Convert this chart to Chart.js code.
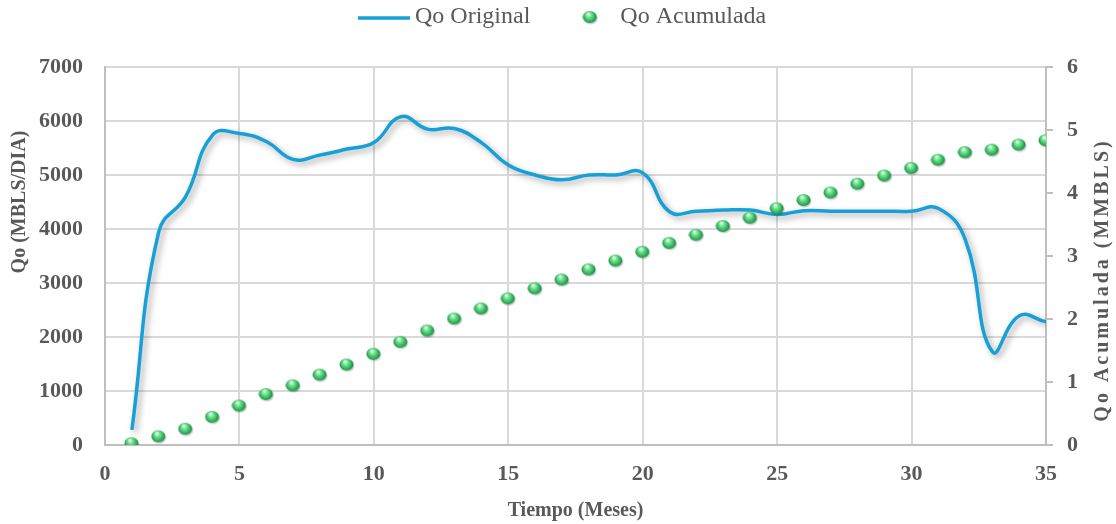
<!DOCTYPE html>
<html>
<head>
<meta charset="utf-8">
<script src="https://cdn.jsdelivr.net/npm/chart.js@4"></script>
<style>
  html, body { margin: 0; padding: 0; background: #fff; }
  #grafico { display: block; }
</style>
</head>
<body>
<canvas id="grafico" width="1116" height="524"></canvas>
<script>
// Datos
const meses = [1, 2, 3, 4, 5, 6, 7, 8, 9, 10, 11, 12, 13, 14, 15, 16, 17, 18,
               19, 20, 21, 22, 23, 24, 25, 26, 27, 28, 29, 30, 31, 32, 33, 34, 35];

const qoOriginal = [280, 3950, 4600, 5740, 5770, 5620, 5290, 5370, 5480, 5600,
                    6080, 5850, 5860, 5600, 5185, 5000, 4910, 5000, 5000, 5040,
                    4320, 4330, 4350, 4350, 4270, 4340, 4330, 4330, 4330, 4330,
                    4380, 3800, 1730, 2390, 2280];

const qoAcumulada = [0.02, 0.13, 0.25, 0.44, 0.62, 0.80, 0.94, 1.11, 1.27, 1.44,
                     1.63, 1.81, 2.00, 2.16, 2.32, 2.48, 2.62, 2.78, 2.92, 3.06,
                     3.20, 3.33, 3.47, 3.60, 3.75, 3.88, 4.00, 4.14, 4.27, 4.39,
                     4.52, 4.64, 4.68, 4.76, 4.83];

const ticksX = [0, 5, 10, 15, 20, 25, 30, 35];

// esfera verde para los puntos
function esfera() {
  const c = document.createElement('canvas');
  c.width = 16; c.height = 15;
  const g = c.getContext('2d');
  g.fillStyle = 'rgba(0,0,0,0.18)';
  g.beginPath(); g.ellipse(8.5, 8.5, 7, 6, 0, 0, Math.PI * 2); g.fill();
  const grad = g.createRadialGradient(6, 4, 0.5, 7.5, 7, 8);
  grad.addColorStop(0, '#e6ffe9');
  grad.addColorStop(0.25, '#7ee69a');
  grad.addColorStop(0.65, '#2fb35a');
  grad.addColorStop(1, '#146b31');
  g.fillStyle = grad;
  g.beginPath(); g.ellipse(7.5, 7, 7, 6, 0, 0, Math.PI * 2); g.fill();
  return c;
}
const imgEsfera = esfera();

const gris = '#595959';
const fuente = 'Liberation Serif, Times New Roman, serif';

// sombra debajo de la linea
const sombra = {
  id: 'sombra',
  beforeDatasetDraw(chart, args) {
    if (args.index !== 0) return;
    const c = chart.ctx;
    c.save();
    c.shadowColor = 'rgba(0,0,0,0.35)';
    c.shadowBlur = 6;
    c.shadowOffsetX = 3;
    c.shadowOffsetY = 3;
  },
  afterDatasetDraw(chart, args) {
    if (args.index !== 0) return;
    chart.ctx.restore();
  }
};

// titulos verticales (los dos leen de abajo hacia arriba) + leyenda arriba
const extras = {
  id: 'extras',
  afterDraw(chart) {
    const c = chart.ctx;
    const escribir = (txt, x, y, esp) => {
      c.save();
      c.translate(x, y);
      c.rotate(-Math.PI / 2);
      c.font = 'bold 20px ' + fuente;
      c.fillStyle = gris;
      c.textAlign = 'center';
      c.textBaseline = 'middle';
      c.letterSpacing = esp;
      c.fillText(txt, 0, 0);
      c.restore();
    };
    escribir('Qo (MBLS/DIA)', 20, 202, '0px');
    escribir('Qo Acumulada (MMBLS)', 1103, 280, '3px');

    // leyenda
    const ds = chart.data.datasets;
    const y = 17;
    c.save();
    c.font = '24px ' + fuente;
    c.fillStyle = gris;
    c.textBaseline = 'middle';
    c.textAlign = 'left';
    let x = 358;
    c.strokeStyle = ds[0].borderColor;
    c.lineWidth = 3.5;
    c.beginPath(); c.moveTo(x, y + 1); c.lineTo(x + 52, y + 1); c.stroke();
    x += 57;
    c.fillText(ds[0].label, x, y);
    x += c.measureText(ds[0].label).width + 52;
    c.drawImage(imgEsfera, x, y - 7);
    x += 38;
    c.fillText(ds[1].label, x, y);
    c.restore();
  }
};

const ctx = document.getElementById('grafico').getContext('2d');

new Chart(ctx, {
  type: 'line',
  data: {
    datasets: [
      {
        label: 'Qo Original',
        data: meses.map((m, i) => ({ x: m, y: qoOriginal[i] })),
        borderColor: '#17a0d8',
        backgroundColor: '#17a0d8',
        borderWidth: 3.5,
        tension: 0.45,
        pointRadius: 0,
        yAxisID: 'y',
        order: 2
      },
      {
        label: 'Qo Acumulada',
        data: meses.map((m, i) => ({ x: m, y: qoAcumulada[i] })),
        showLine: false,
        pointStyle: imgEsfera,
        pointRadius: 7,
        yAxisID: 'y1',
        order: 1
      }
    ]
  },
  options: {
    responsive: false,
    animation: false,
    layout: { padding: { top: 67, left: 0, right: 0, bottom: 0 } },
    plugins: {
      tooltip: { enabled: false },
      legend: { display: false }
    },
    scales: {
      x: {
        type: 'linear',
        min: 0,
        max: 35,
        afterBuildTicks: s => { s.ticks = ticksX.map(v => ({ value: v })); },
        afterFit: s => { s.height = 79; },
        grid: { color: '#d9d9d9', lineWidth: 2, drawTicks: false },
        border: { color: '#bfbfbf', width: 2 },
        ticks: { padding: 16, color: gris, font: { family: fuente, size: 22, weight: 'bold' } },
        title: {
          display: true,
          text: 'Tiempo (Meses)',
          color: gris,
          padding: { top: 4, bottom: 1 },
          font: { family: fuente, size: 20, weight: 'bold' }
        }
      },
      y: {
        position: 'left',
        min: 0,
        max: 7000,
        afterFit: s => { s.width = 105; },
        grid: { color: '#d9d9d9', lineWidth: 2, drawTicks: false },
        border: { color: '#bfbfbf', width: 2 },
        ticks: {
          stepSize: 1000,
          padding: 22,
          color: gris,
          font: { family: fuente, size: 22, weight: 'bold' },
          callback: v => String(v)
        }
      },
      y1: {
        position: 'right',
        min: 0,
        max: 6,
        afterFit: s => { s.width = 70; },
        grid: { drawOnChartArea: false, color: '#bfbfbf', lineWidth: 2, tickLength: 7 },
        border: { color: '#bfbfbf', width: 2 },
        ticks: { stepSize: 1, padding: 14, color: gris, font: { family: fuente, size: 22, weight: 'bold' } }
      }
    }
  },
  plugins: [sombra, extras]
});
</script>
</body>
</html>
